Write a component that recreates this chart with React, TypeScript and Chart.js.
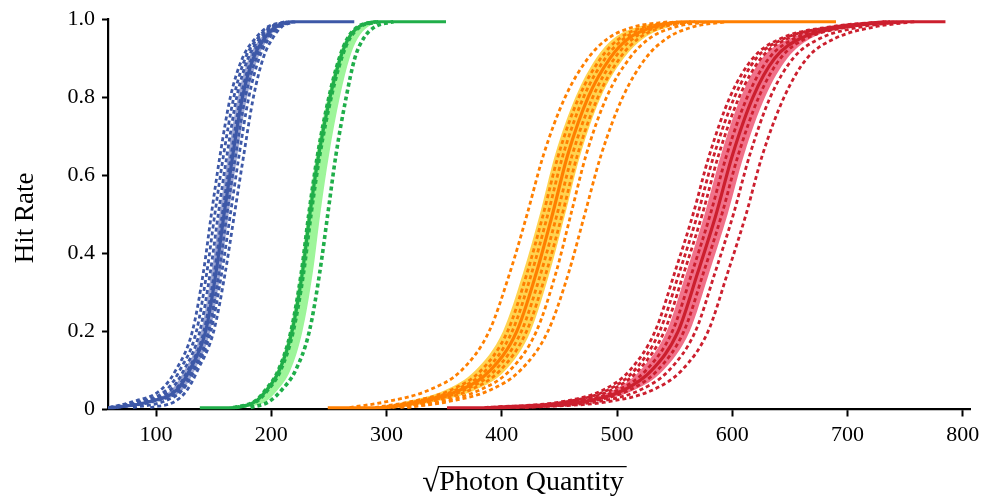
import React, { useEffect, useRef } from "react";
import { Chart, registerables } from "chart.js";

Chart.register(...registerables);

// ---------- data (x values of each curve read at fixed hit-rate levels) ----------
const LEVELS = [0.005, 0.02, 0.05, 0.1, 0.2, 0.35, 0.5, 0.65, 0.8, 0.9, 0.95, 0.98, 0.993];

const X_TICKS = [100, 200, 300, 400, 500, 600, 700, 800];
const Y_TICKS = [0, 0.2, 0.4, 0.6, 0.8, 1.0];
const X_MIN = 58.3;
const X_MAX = 806.3;

const X_TITLE_ROOT = "√";
const X_TITLE = "Photon Quantity";
const Y_TITLE = "Hit Rate";

// Blue group
const BLUE_RANGE = [58.3, 272];
const BLUE_MEAN = [64, 94, 118, 129, 143, 152, 159, 166.5, 175, 184.5, 194, 204, 218];
const BLUE_BAND_LO = [59, 89, 113, 124.5, 139, 148, 155, 162.5, 171, 180.5, 190.5, 201, 215];
const BLUE_BAND_HI = [68, 99, 123, 133.5, 147, 156, 163, 170.5, 179, 188.5, 197.5, 207, 221];
const BLUE_DASH_1 = [59, 80, 104, 117, 131.5, 141, 148, 155.5, 164.5, 175, 186, 197, 212];
const BLUE_DASH_2 = [59.5, 85, 109, 120.5, 135, 144, 151, 158.5, 167.5, 177.5, 188, 199, 213];
const BLUE_DASH_3 = [60, 89, 112.5, 124, 138, 147, 154, 161.5, 170, 180, 190, 200.5, 214];
const BLUE_DASH_4 = [61, 93, 116.5, 127.5, 141.5, 150.5, 157.5, 165, 173.5, 183, 192.5, 202.5, 216];
const BLUE_DASH_5 = [66, 97, 120.5, 131.5, 145.5, 154.5, 161.5, 169, 177.5, 187, 196, 205.5, 219];
const BLUE_DASH_6 = [80, 106, 123, 133.5, 147.5, 157, 164.5, 172, 180.5, 189.5, 198, 207, 220];
const BLUE_DASH_7 = [95, 116, 127, 136, 150, 160, 168, 176, 184.5, 193, 201, 209, 221];

// Green group
const GREEN_RANGE = [138, 351.6];
const GREEN_MEAN = [168, 186, 196, 207, 218, 227, 233.5, 241, 251, 260, 267, 276, 292];
const GREEN_BAND_LO = [166, 184, 194, 205, 216, 225, 231.5, 239, 249, 258, 265, 274, 290];
const GREEN_BAND_HI = [177, 195, 205.5, 216.5, 227, 236, 242.5, 250, 259.5, 268, 275, 284, 300];
const GREEN_DASH_1 = [167, 185, 195, 206, 217, 226, 232.5, 240, 250, 259, 266, 275, 291];
const GREEN_DASH_2 = [169, 187, 197, 208, 219, 228, 234.5, 242, 252, 261, 268, 277, 293];
const GREEN_DASH_3 = [182, 198, 209, 221, 233, 242, 249, 256, 265, 272.5, 280, 290, 306];

// Orange group
const ORANGE_RANGE = [249, 690];
const ORANGE_MEAN = [297, 329, 364, 390, 413, 430, 444, 457, 475, 494, 510, 532, 560];
const ORANGE_BAND_LO = [283, 316, 351, 377, 401, 418.5, 433, 446, 464, 482, 497, 518, 545];
const ORANGE_BAND_HI = [311, 342, 377, 403, 425, 441.5, 455, 468, 486, 506, 523, 546, 575];
const ORANGE_DASH_1 = [268, 300, 337, 365, 389, 407, 422, 436, 455, 475, 492, 515, 545];
const ORANGE_DASH_2 = [290, 321, 356, 382, 405, 422, 436, 449, 467, 486, 502, 524, 552];
const ORANGE_DASH_3 = [294, 325, 360, 386, 409, 426, 440, 453, 471, 490, 506, 528, 556];
const ORANGE_DASH_4 = [301, 333, 368, 394, 417, 434, 448, 461, 479, 498, 514, 536, 564];
const ORANGE_DASH_5 = [305, 337, 372.5, 398.5, 421.5, 438.5, 452.5, 465.5, 483.5, 502.5, 518.5, 540.5, 568];
const ORANGE_DASH_6 = [312, 346, 381, 407, 430, 447, 460, 473, 491, 511, 528, 551, 580];
const ORANGE_DASH_7 = [318, 353, 390, 416, 440, 458, 472, 486, 505, 525, 543, 566, 595];

// Red group
const RED_RANGE = [352.5, 785];
const RED_MEAN = [400, 470, 506, 530, 553, 570, 586, 600, 618, 637, 659, 698, 740];
const RED_BAND_LO = [396, 464, 497, 520, 543, 560, 576, 590, 607.5, 626, 650, 692, 736];
const RED_BAND_HI = [404, 476, 515, 540, 563, 580, 596, 610, 628.5, 648, 668, 704, 744];
const RED_DASH_1 = [385, 452, 488, 511, 533, 550, 566, 580, 598, 618, 642, 685, 732];
const RED_DASH_2 = [388, 456, 492, 515, 537, 554, 570, 584, 602, 621, 645, 688, 734];
const RED_DASH_3 = [391, 460, 495, 518.5, 541, 558, 574, 588, 606, 625, 648, 690, 735];
const RED_DASH_4 = [396, 466, 501, 525, 548, 565, 581, 595, 613, 632, 654, 694, 737];
const RED_DASH_5 = [404, 475, 511, 535, 558, 575, 591, 605, 623, 642, 664, 702, 743];
const RED_DASH_6 = [412, 483, 520, 545, 568, 585, 601, 615, 633, 653, 676, 712, 750];
const RED_DASH_7 = [420, 492, 531, 556, 579, 596, 612, 626, 645, 665, 689, 724, 758];

// ---------- styles ----------
const FONT = "'Liberation Serif', 'Times New Roman', serif";

const GROUPS = [
  {
    line: "#3d58a7", band: "#9ca6d2", range: BLUE_RANGE, mean: BLUE_MEAN,
    lo: BLUE_BAND_LO, hi: BLUE_BAND_HI,
    dashes: [BLUE_DASH_1, BLUE_DASH_2, BLUE_DASH_3, BLUE_DASH_4, BLUE_DASH_5, BLUE_DASH_6, BLUE_DASH_7],
    dashWidth: 2.8,
  },
  {
    line: "#20ae4a", band: "#9ef59a", range: GREEN_RANGE, mean: GREEN_MEAN,
    lo: GREEN_BAND_LO, hi: GREEN_BAND_HI,
    dashes: [GREEN_DASH_1, GREEN_DASH_2, GREEN_DASH_3],
    dashWidth: 3.6,
  },
  {
    line: "#ff7f00", band: "#ffd350", range: ORANGE_RANGE, mean: ORANGE_MEAN,
    lo: ORANGE_BAND_LO, hi: ORANGE_BAND_HI,
    dashes: [ORANGE_DASH_1, ORANGE_DASH_2, ORANGE_DASH_3, ORANGE_DASH_4, ORANGE_DASH_5, ORANGE_DASH_6, ORANGE_DASH_7],
    dashWidth: 2.8,
  },
  {
    line: "#cc1f2e", band: "#f07189", range: RED_RANGE, mean: RED_MEAN,
    lo: RED_BAND_LO, hi: RED_BAND_HI,
    dashes: [RED_DASH_1, RED_DASH_2, RED_DASH_3, RED_DASH_4, RED_DASH_5, RED_DASH_6, RED_DASH_7],
    dashWidth: 2.8,
  },
];

function toPoints(xs: number[], range?: number[]) {
  const pts = xs.map((x, i) => ({ x, y: LEVELS[i] }));
  if (range) {
    if (range[0] < xs[0]) pts.unshift({ x: range[0], y: 0.004 });
    if (range[1] > xs[xs.length - 1]) pts.push({ x: range[1], y: LEVELS[LEVELS.length - 1] });
  }
  return pts;
}

function buildDatasets() {
  const solids: any[] = [];
  const dashed: any[] = [];
  const bands: any[] = [];
  GROUPS.forEach((g) => {
    solids.push({
      data: toPoints(g.mean, g.range),
      borderColor: g.line,
      borderWidth: 3.2,
      pointRadius: 0,
      fill: false,
      cubicInterpolationMode: "monotone",
    });
    g.dashes.forEach((d) => {
      dashed.push({
        data: toPoints(d),
        borderColor: g.line,
        borderWidth: g.dashWidth,
        borderDash: [4, 3],
        pointRadius: 0,
        fill: false,
        cubicInterpolationMode: "monotone",
      });
    });
    bands.push({
      data: toPoints(g.lo),
      borderColor: "rgba(0,0,0,0)",
      borderWidth: 0,
      pointRadius: 0,
      fill: false,
      cubicInterpolationMode: "monotone",
    });
    bands.push({
      data: toPoints(g.hi),
      borderColor: "rgba(0,0,0,0)",
      backgroundColor: g.band,
      borderWidth: 0,
      pointRadius: 0,
      fill: "-1",
      cubicInterpolationMode: "monotone",
    });
  });
  return [...solids, ...dashed, ...bands];
}

const titlesPlugin = {
  id: "axisTitles",
  afterDraw(chart: any) {
    const ctx = chart.ctx as CanvasRenderingContext2D;
    // y title
    ctx.save();
    ctx.fillStyle = "#000";
    ctx.font = `27px ${FONT}`;
    ctx.translate(33, 218);
    ctx.rotate(-Math.PI / 2);
    ctx.textAlign = "center";
    ctx.textBaseline = "alphabetic";
    ctx.fillText(Y_TITLE, 0, 0);
    ctx.restore();

    // x title with radical and overline
    ctx.save();
    ctx.fillStyle = "#000";
    ctx.strokeStyle = "#000";
    ctx.textBaseline = "alphabetic";
    ctx.textAlign = "left";
    ctx.font = `31px ${FONT}`;
    const rm = ctx.measureText(X_TITLE_ROOT);
    const rootW = rm.width;
    const rootTop = rm.actualBoundingBoxAscent;
    ctx.font = `28px ${FONT}`;
    const textW = ctx.measureText(X_TITLE).width;
    const total = rootW + textW;
    const startX = 523 - total / 2;
    const base = 490;
    ctx.font = `31px ${FONT}`;
    ctx.fillText(X_TITLE_ROOT, startX, base + 1);
    ctx.font = `28px ${FONT}`;
    ctx.fillText(X_TITLE, startX + rootW, base);
    ctx.lineWidth = 1.3;
    const oy = base + 1 - rootTop + 0.7;
    ctx.beginPath();
    ctx.moveTo(startX + rootW - 1.5, oy);
    ctx.lineTo(startX + total + 3, oy);
    ctx.stroke();
    ctx.restore();
  },
};

export default function App() {
  const ref = useRef<HTMLCanvasElement | null>(null);

  useEffect(() => {
    document.body.style.margin = "0";
    if (!ref.current) return;
    const chart = new Chart(ref.current, {
      type: "line",
      data: { datasets: buildDatasets() },
      options: {
        animation: false,
        responsive: false,
        devicePixelRatio: 1,
        layout: { padding: { left: 0, top: 19, right: 12, bottom: 0 } },
        plugins: {
          legend: { display: false },
          tooltip: { enabled: false },
          filler: { drawTime: "beforeDatasetsDraw" },
        },
        scales: {
          x: {
            type: "linear",
            min: X_MIN,
            max: X_MAX,
            afterBuildTicks: (s: any) => {
              s.ticks = X_TICKS.map((v) => ({ value: v }));
            },
            afterFit: (s: any) => {
              s.height = 88.5;
              s.paddingLeft = 0;
              s.paddingRight = 0;
            },
            ticks: {
              color: "#000",
              font: { family: FONT, size: 22 },
              padding: 6,
              maxRotation: 0,
              autoSkip: false,
              callback: (v: any) => String(v),
            },
            grid: {
              display: true,
              drawOnChartArea: false,
              drawTicks: true,
              tickLength: 7,
              tickWidth: 2,
              tickColor: "#000",
              color: "#000",
            },
            border: { display: true, color: "#000", width: 2.2 },
          },
          y: {
            type: "linear",
            min: 0,
            max: 1,
            afterBuildTicks: (s: any) => {
              s.ticks = Y_TICKS.map((v) => ({ value: v }));
            },
            afterFit: (s: any) => {
              s.width = 108;
              s.paddingTop = 0;
              s.paddingBottom = 0;
            },
            ticks: {
              color: "#000",
              font: { family: FONT, size: 22 },
              padding: 7,
              autoSkip: false,
              callback: (v: any) => (Number(v) === 0 ? "0" : Number(v).toFixed(1)),
            },
            grid: {
              display: true,
              drawOnChartArea: false,
              drawTicks: true,
              tickLength: 6,
              tickWidth: 2,
              tickColor: "#000",
              color: "#000",
            },
            border: { display: true, color: "#000", width: 2.2 },
          },
        },
      },
      plugins: [titlesPlugin],
    } as any);
    return () => chart.destroy();
  }, []);

  return (
    <div style={{ width: 982, height: 498 }}>
      <canvas ref={ref} width={982} height={498} style={{ display: "block" }} />
    </div>
  );
}
